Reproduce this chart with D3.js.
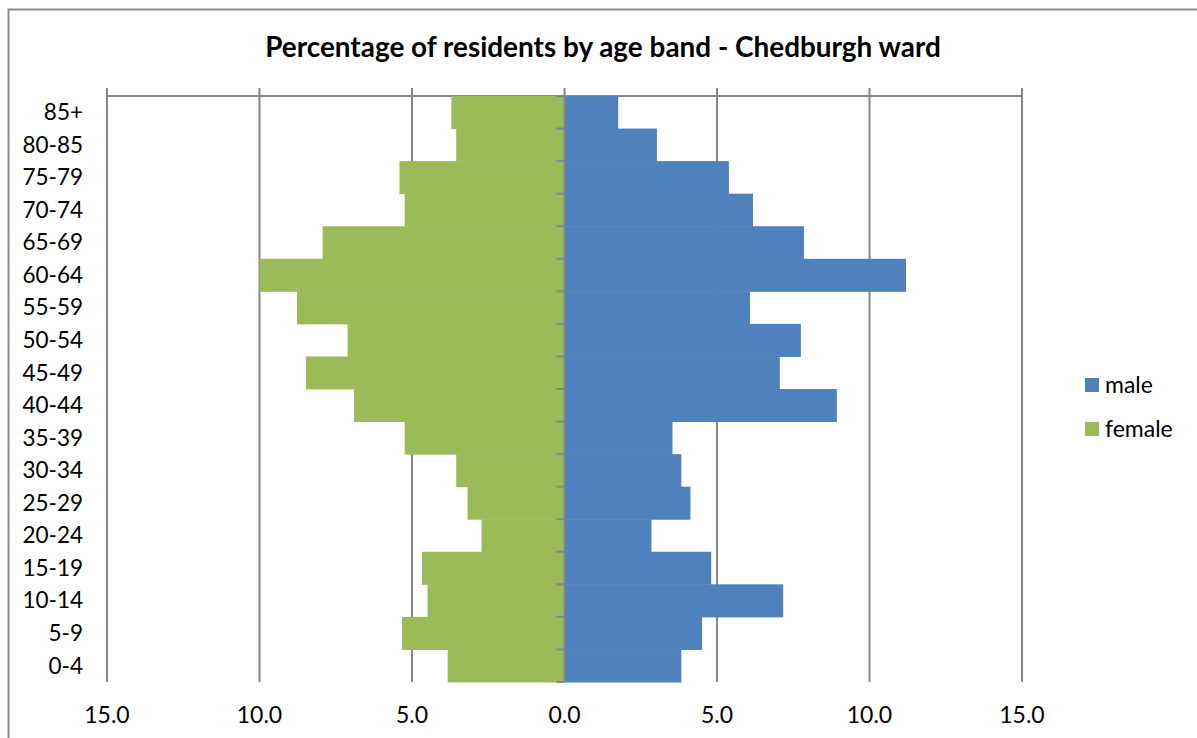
<!DOCTYPE html>
<html>
<head>
<meta charset="utf-8">
<script src="https://cdn.jsdelivr.net/npm/d3@7"></script>
<style>
  body { margin: 0; background: #fff; }
  svg text { font-family: Lato, "Open Sans", sans-serif; fill: #000; }
</style>
</head>
<body>
<div id="chart-container"></div>
<script>
// Age bands, top to bottom as drawn
const ageBands = ["85+", "80-85", "75-79", "70-74", "65-69", "60-64", "55-59", "50-54", "45-49",
    "40-44", "35-39", "30-34", "25-29", "20-24", "15-19", "10-14", "5-9", "0-4"];

// Percentages
const male = [1.76, 3.03, 5.39, 6.18, 7.85, 11.2, 6.08, 7.75, 7.06,
    8.93, 3.54, 3.83, 4.13, 2.85, 4.81, 7.17, 4.51, 3.83];
const female = [3.71, 3.55, 5.41, 5.24, 7.93, 10.0, 8.77, 7.11, 8.48,
    6.9, 5.24, 3.55, 3.18, 2.72, 4.67, 4.49, 5.33, 3.83];

const xTicks = [-15, -10, -5, 0, 5, 10, 15];
const seriesNames = ["male", "female"];
const colors = { male: "#4F81BD", female: "#9BBB59" };
const titleText = "Percentage of residents by age band - Chedburgh ward";

const W = 1197, H = 738;
const plot = { left: 107, right: 1022, top: 96, bottom: 682 };
const gridColor = "#868686";

const svg = d3.select("#chart-container")
    .append("svg")
    .attr("width", W)
    .attr("height", H);

// Outer chart border (runs off the right and bottom edges)
svg.append("rect")
    .attr("x", 8.5).attr("y", 9.5)
    .attr("width", W + 20).attr("height", H + 20)
    .attr("fill", "#fff")
    .attr("stroke", "#8c8c8c")
    .attr("stroke-width", 2);

const x = d3.scaleLinear()
    .domain([-15, 15])
    .range([plot.left, plot.right]);

const y = d3.scaleBand()
    .domain(ageBands)
    .range([plot.top, plot.bottom])
    .padding(0);

// Title, fitted to the width it has in the original
const title = svg.append("text")
    .attr("x", 603)
    .attr("y", 57)
    .attr("text-anchor", "middle")
    .attr("font-weight", "bold")
    .attr("font-size", 24)
    .text(titleText);
const tw = title.node().getComputedTextLength();
title.attr("font-size", 24 * 676 / tw);

// Vertical gridlines (extend a little above the top line as ticks)
svg.append("g")
    .selectAll("line")
    .data(xTicks.filter(d => d !== 0))
    .join("line")
    .attr("x1", d => x(d)).attr("x2", d => x(d))
    .attr("y1", plot.top - 8).attr("y2", plot.bottom)
    .attr("stroke", gridColor)
    .attr("stroke-width", 2);

// Top axis line
svg.append("line")
    .attr("x1", plot.left).attr("x2", plot.right)
    .attr("y1", plot.top).attr("y2", plot.top)
    .attr("stroke", gridColor)
    .attr("stroke-width", 2);

// Bars
const rows = ageBands.map((a, i) => ({ age: a, male: male[i], female: female[i] }));

svg.append("g")
    .selectAll("rect")
    .data(rows)
    .join("rect")
    .attr("x", d => x(-d.female))
    .attr("y", d => y(d.age))
    .attr("width", d => x(0) - x(-d.female))
    .attr("height", y.bandwidth() + 0.5)
    .attr("fill", colors.female);

svg.append("g")
    .selectAll("rect")
    .data(rows)
    .join("rect")
    .attr("x", x(0))
    .attr("y", d => y(d.age))
    .attr("width", d => x(d.male) - x(0))
    .attr("height", y.bandwidth() + 0.5)
    .attr("fill", colors.male);

// Category axis at zero, ticks at band boundaries pointing left
const boundaries = ageBands.map(a => y(a)).concat([plot.bottom]);
svg.append("g")
    .selectAll("line")
    .data(boundaries)
    .join("line")
    .attr("x1", x(0) - 8).attr("x2", x(0))
    .attr("y1", d => d).attr("y2", d => d)
    .attr("stroke", gridColor)
    .attr("stroke-width", 2);

svg.append("line")
    .attr("x1", x(0)).attr("x2", x(0))
    .attr("y1", plot.top - 8).attr("y2", plot.bottom)
    .attr("stroke", gridColor)
    .attr("stroke-width", 2);

// Category labels
svg.append("g")
    .selectAll("text")
    .data(ageBands)
    .join("text")
    .attr("x", 83)
    .attr("y", d => y(d) + y.bandwidth() / 2)
    .attr("dy", "0.35em")
    .attr("text-anchor", "end")
    .attr("font-size", 22.5)
    .text(d => d);

// Value labels along the bottom (absolute values)
svg.append("g")
    .selectAll("text")
    .data(xTicks)
    .join("text")
    .attr("x", d => x(d))
    .attr("y", 715)
    .attr("dy", "0.35em")
    .attr("text-anchor", "middle")
    .attr("font-size", 23)
    .text(d => d3.format(".1f")(Math.abs(d)));

// Legend
const legend = svg.append("g")
    .selectAll("g")
    .data(seriesNames)
    .join("g")
    .attr("transform", (d, i) => `translate(1085,${378 + i * 44})`);

legend.append("rect")
    .attr("width", 14).attr("height", 14)
    .attr("fill", d => colors[d]);

legend.append("text")
    .attr("x", 20)
    .attr("y", 7)
    .attr("dy", "0.35em")
    .attr("font-size", 23)
    .text(d => d);
</script>
</body>
</html>
